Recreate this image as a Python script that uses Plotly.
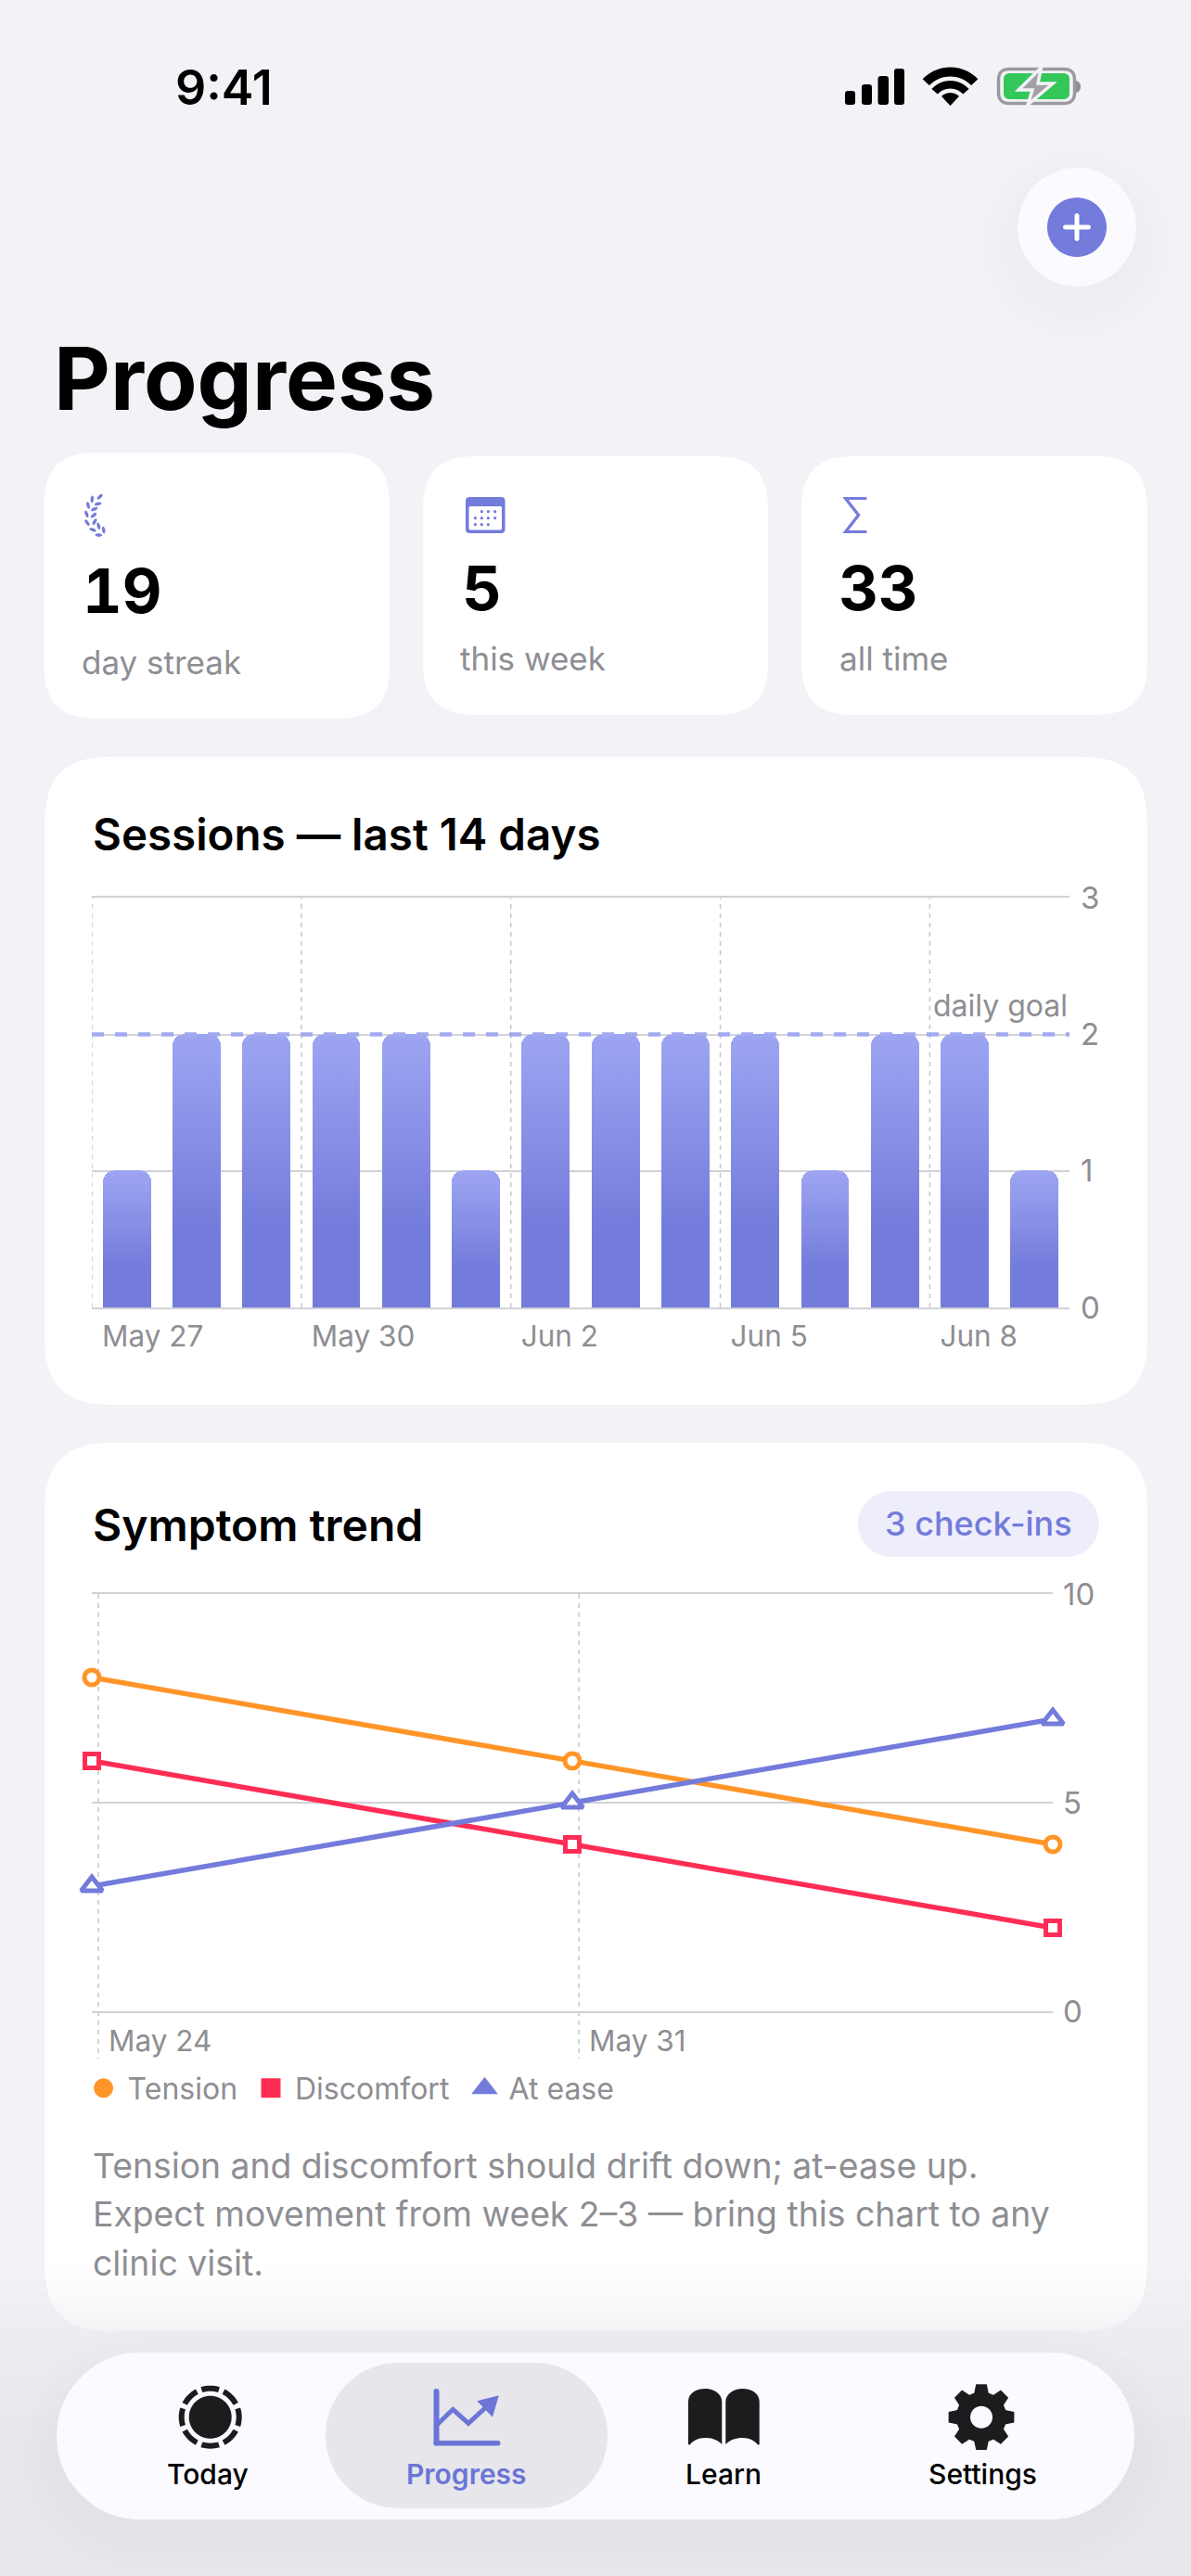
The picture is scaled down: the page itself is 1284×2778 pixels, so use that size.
import math
import re
import plotly.graph_objects as go

# ---------- data ----------
days = ["May 27", "May 28", "May 29", "May 30", "May 31", "Jun 1", "Jun 2",
        "Jun 3", "Jun 4", "Jun 5", "Jun 6", "Jun 7", "Jun 8", "Jun 9"]
sessions = [1, 2, 2, 2, 2, 1, 2, 2, 2, 2, 1, 2, 2, 1]
daily_goal = 2
session_label_days = ["May 27", "May 30", "Jun 2", "Jun 5", "Jun 8"]
session_y_ticks = [0, 1, 2, 3]

checkin_times = ["2024-05-23 21:44", "2024-05-30 21:44", "2024-06-06 21:44"]
tension = [8, 6, 4]
discomfort = [6, 4, 2]
at_ease = [3, 5, 7]
trend_tick_dates = ["2024-05-24", "2024-05-31"]
trend_tick_labels = ["May 24", "May 31"]
trend_y_ticks = [0, 5, 10]

stat_values = ["19", "5", "33"]
stat_labels = ["day streak", "this week", "all time"]
note_lines = ["Tension and discomfort should drift down; at-ease up.",
              "Expect movement from week 2\u20133 \u2014 bring this chart to any",
              "clinic visit."]
nav_labels = ["Today", "Progress", "Learn", "Settings"]

# ---------- palette ----------
W, H = 1284, 2778
BG = "#F2F2F7"
CARD = "#FFFFFF"
NAVBG = "#FAFAFF"
INDIGO = "#737BDB"
INDIGO_DK = "#6B75D8"
INK = "#1C1C1E"
GREY = "#8E8E93"
GRID = "#D1D1D6"
VGRID = "#C7C7CC"
ORANGE = "#FF9528"
RED = "#FF2D55"
FONT = "Inter"


def fx(x):
    return x / W


def fy(y):
    return 1 - y / H


def pth(s):
    toks = re.findall(r"[MLCQZ]|-?\d+\.?\d*", s)
    out, is_x = [], True
    for t in toks:
        if t in "MLCQZ":
            out.append(t)
            is_x = True
        else:
            v = float(t)
            out.append(f"{fx(v):.6f}" if is_x else f"{fy(v):.6f}")
            is_x = not is_x
    return " ".join(out)


shapes = []


def add(path, fill=None, stroke=None, sw=0, opacity=1.0):
    shapes.append(dict(type="path", xref="paper", yref="paper", layer="below",
                       path=pth(path), fillcolor=fill or "rgba(0,0,0,0)", opacity=opacity,
                       line=dict(color=stroke or "rgba(0,0,0,0)", width=sw)))


def rr(x0, y0, x1, y1, r, k=1.3):
    s = min(r * k, (x1 - x0) / 2, (y1 - y0) / 2)
    c = s * 0.3
    if s < r * k:
        c = s * 0.448
    return (f"M {x0} {y0+s} C {x0} {y0+c} {x0+c} {y0} {x0+s} {y0} L {x1-s} {y0} "
            f"C {x1-c} {y0} {x1} {y0+c} {x1} {y0+s} L {x1} {y1-s} "
            f"C {x1} {y1-c} {x1-c} {y1} {x1-s} {y1} L {x0+s} {y1} "
            f"C {x0+c} {y1} {x0} {y1-c} {x0} {y1-s} Z")


def circle(cx, cy, r):
    return rr(cx - r, cy - r, cx + r, cy + r, r * 2)


def sector(cx, cy, r0, r1, a0, a1, n=14):
    pts = []
    for i in range(n + 1):
        a = math.radians(a0 + (a1 - a0) * i / n)
        pts.append((cx + r1 * math.cos(a), cy - r1 * math.sin(a)))
    for i in range(n, -1, -1):
        a = math.radians(a0 + (a1 - a0) * i / n)
        pts.append((cx + r0 * math.cos(a), cy - r0 * math.sin(a)))
    return "M " + " L ".join(f"{x:.2f} {y:.2f}" for x, y in pts) + " Z"


def poly(pts, close=True):
    return "M " + " L ".join(f"{x:.2f} {y:.2f}" for x, y in pts) + (" Z" if close else "")


def ellipse(cx, cy, a, b, ang, n=14):
    t = math.radians(ang)
    pts = []
    for i in range(n):
        u = 2 * math.pi * i / n
        ex, ey = a * math.cos(u), b * math.sin(u)
        pts.append((cx + ex * math.cos(t) - ey * math.sin(t), cy - ex * math.sin(t) - ey * math.cos(t)))
    return poly(pts)


def shadow(x0, y0, x1, y1, r, dy, spread, layers, alpha):
    for i in range(layers):
        g = spread * (1 - i / layers)
        add(rr(x0 - g, y0 - g + dy, x1 + g, y1 + g + dy, r + g), fill="#000000", opacity=alpha)


# ---------- cards ----------
for box, r in [((47.5, 488, 420, 775), 44), ((456, 492, 828, 771), 44), ((864, 492, 1237, 771), 44),
               ((48, 816, 1237, 1515), 56), ((48, 1556, 1237, 2514), 56)]:
    add(rr(*box, r), fill=CARD)

# bottom fade: horizontal strips, each with its own opacity
FADE = "#E7E7EC"
y = 2436
while y < H:
    if y < 2514:
        a = 0.5 * ((y - 2436) / 78) ** 1.3
    else:
        a = min(1.0, 0.5 + 0.5 * (y - 2514) / 120)
    shapes.append(dict(type="rect", xref="paper", yref="paper", layer="below",
                       x0=0, x1=1, y0=fy(y + 3), y1=fy(y), fillcolor=FADE, opacity=a, line=dict(width=0)))
    y += 3

# FAB
shadow(1097, 181, 1225, 309, 64, 18, 44, 5, 0.0042)
add(circle(1161, 245, 64), fill=NAVBG)
add(circle(1161, 245, 32), fill=INDIGO)
add(rr(1146, 242.5, 1176, 247.5, 2.5), fill="#FFFFFF")
add(rr(1158.5, 230, 1163.5, 260, 2.5), fill="#FFFFFF")

# nav
shadow(61, 2537, 1223, 2717, 90, 16, 40, 5, 0.0042)
add(rr(61, 2537, 1223, 2717, 90), fill=NAVBG)
add(rr(351, 2548, 655, 2705, 78), fill="#E6E6EB")

# status bar
for x0, x1, y0 in [(911, 922, 98), (929, 940, 91), (946.5, 958, 82), (964, 975, 74)]:
    add(rr(x0, y0, x1, 113, 3.2, 1.0), fill="#000000")
add(sector(1024.5, 114, 31.5, 41.5, 44, 136), fill="#000000")
add(sector(1024.5, 114, 18.5, 27, 42, 138), fill="#000000")
add(sector(1024.5, 114, 0, 14, 47, 133, 6), fill="#000000")
add(rr(1076.5, 74.5, 1158.5, 111.5, 12, 1.0), stroke="#9A9A9E", sw=3.5)
add(rr(1082, 79, 1153, 107, 7, 1.0), fill="#34C759")
add("M 1160 87 C 1164 88 1165 91 1165 93.5 C 1165 96 1164 99 1160 100 Z", fill="#8E8E93")
bolt = [(1122.5, 73), (1098, 97), (1113, 97), (1108, 113), (1135, 90), (1119, 90)]
add(poly(bolt), fill="#A2A2A6", stroke=BG, sw=3.5)

# laurel
for cx, cy, ang in [(113, 47, 45), (88, 55, 85), (107, 70, 12), (75, 75, 105), (95, 87, 25),
                    (70, 103, 110), (93, 107, 40), (72, 131, 125), (96, 128, 60), (109, 142, 105),
                    (90, 154, 160), (125, 155, 100), (109, 171, 178)]:
    add(ellipse(70 + cx / 3, 520 + cy / 3, 3.9, 1.7, ang), fill=INDIGO)

# calendar
add(rr(502, 536, 544.5, 575, 4.5, 1.0), fill=INDIGO)
add(rr(505.5, 546, 541, 571.5, 2, 1.0), fill="#FFFFFF")
for row, xs in [(95, (88, 109, 131)), (116, (67, 88, 109, 131)), (137, (67, 88, 109))]:
    for xz in xs:
        add(circle(490 + xz / 3, 520 + row / 3, 1.6), fill=INDIGO)

# sigma
add(poly([(934.3, 537.5), (911.6, 537.5), (925.6, 555.5), (911.6, 573.5), (934.3, 573.5)], close=False),
    stroke=INDIGO, sw=3.2)

# Today icon
add(circle(226.7, 2606.7, 23), fill=INK)
for k in range(8):
    c = k * 45
    add(sector(226.7, 2606.7, 28, 34, c - 17.5, c + 17.5, 8), fill=INK)

# Progress icon
add(rr(467.5, 2576, 473.5, 2637.5, 3, 1.0), fill=INDIGO_DK)
add(rr(467.5, 2632, 539.5, 2637.5, 2.7, 1.0), fill=INDIGO_DK)
add(poly([(471, 2615), (488.3, 2598.3), (505, 2613.3), (525, 2595)], close=False), stroke=INDIGO_DK, sw=5)
add(poly([(514.3, 2589.3), (537.7, 2583.3), (531, 2606.7)]), fill=INDIGO_DK)

# Learn icon
add("M 742 2636 L 742 2590 C 742 2580 752 2576 760 2576 C 770 2576 778.3 2582 778.3 2590 L 778.3 2636 "
    "C 773 2631 768 2629 760 2629 C 753 2629 747 2632 743.5 2636.7 Z", fill=INK)
add("M 818.7 2636 L 818.7 2590 C 818.7 2580 808.7 2576 800.7 2576 C 790.7 2576 782.3 2582 782.3 2590 L 782.3 2636 "
    "C 787.7 2631 792.7 2629 800.7 2629 C 807.7 2629 813.7 2632 817.2 2636.7 Z", fill=INK)

# Settings icon
gc = (1058, 2606.7)
pts = []
for k in range(8):
    a = k * 45 + 90
    for d, r in [(-15.5, 26.5), (-8.5, 35), (8.5, 35), (15.5, 26.5)]:
        t = math.radians(a + d)
        pts.append((gc[0] + r * math.cos(t), gc[1] - r * math.sin(t)))
add(poly(pts), fill=INK, stroke=INK, sw=1.5)
add(circle(gc[0], gc[1], 12), fill=NAVBG)

# pill
add(rr(925, 1608, 1185, 1679, 35), fill="#EEEEFA")

# vertical dashed grids
VDASH = dict(color=VGRID, width=1.5, dash="5px,5px")
x_session_ticks = [days.index(d) - 0.5 for d in session_label_days]
for v in x_session_ticks:
    shapes.append(dict(type="line", xref="x", yref="paper", layer="below", x0=v, x1=v,
                       y0=fy(1410), y1=fy(968.4), line=VDASH))
for d in trend_tick_dates:
    shapes.append(dict(type="line", xref="x2", yref="paper", layer="below", x0=d, x1=d,
                       y0=fy(1719), y1=fy(2220), line=VDASH))

# ---------- annotations ----------
ann = []


def text(x, y, s, size, color="#000000", weight=400, anchor="left"):
    ann.append(dict(xref="paper", yref="paper", x=fx(x), y=fy(y), text=s, showarrow=False,
                    xanchor=anchor, yanchor="middle", borderpad=0, borderwidth=0,
                    font=dict(family=FONT, size=size, color=color, weight=weight)))


text(189, 94, "9:41", 52, weight=600)
text(58, 408, "Progress", 94, weight=700)
for (xv, yv, xl, yl), v, l in zip([(96, 637, 87.5, 714), (498, 634, 496, 710), (904, 634, 905, 710)],
                                  stat_values, stat_labels):
    text(xv, yv, v, 66, weight=700)
    text(xl, yl, l, 35, color=GREY)
text(100, 899, "Sessions \u2014 last 14 days", 47.5, weight=600)
text(1151, 1084, "daily goal", 32, color=GREY, anchor="right")
text(100, 1644, "Symptom trend", 48, weight=600)
text(1055, 1643, "3 check-ins", 36, color=INDIGO, weight=500, anchor="center")
for y, line in zip([2335, 2387, 2440], note_lines):
    text(100, y, line, 37.3, color=GREY)
for x, s, c, wt in zip([224, 503, 780, 1059], nav_labels, ["#000000", INDIGO_DK, "#000000", "#000000"],
                       [500, 600, 500, 500]):
    text(x, 2668, s, 30, color=c, weight=wt, anchor="center")

# ---------- traces ----------
fig = go.Figure()
x_idx = list(range(len(days)))
fig.add_trace(go.Bar(x=x_idx, y=sessions, width=0.69, marker=dict(color=INDIGO, cornerradius=12, line=dict(width=0)),
                     xaxis="x", yaxis="y", showlegend=False, hoverinfo="skip"))
fig.add_trace(go.Scatter(x=[-0.5, 13.5], y=[daily_goal, daily_goal], mode="lines", xaxis="x", yaxis="y",
                         line=dict(color="#A3A9F0", width=4.5, dash="13px,12px"), showlegend=False, hoverinfo="skip"))

series = [("Tension", tension, ORANGE, "circle", 16), ("Discomfort", discomfort, RED, "square", 15),
          ("At ease", at_ease, INDIGO, "triangle-up", 20)]
for name, vals, col, sym, ms in series:
    fig.add_trace(go.Scatter(x=checkin_times, y=vals, mode="lines+markers", name=name, xaxis="x2", yaxis="y2",
                             cliponaxis=False, showlegend=False, hoverinfo="skip",
                             line=dict(color=col, width=5.5),
                             marker=dict(symbol=sym, size=ms, color="#FFFFFF", line=dict(color=col, width=5))))
legend_keys = ["legend", "legend2", "legend3"]
legend_x = [85.6, 266, 496.5]
for (name, vals, col, sym, ms), key in zip(series, legend_keys):
    fig.add_trace(go.Scatter(x=[None], y=[None], mode="markers", name=name, xaxis="x2", yaxis="y2", legend=key,
                             marker=dict(symbol=sym, size=16, color=col, line=dict(color=col, width=5)),
                             hoverinfo="skip"))

legend_common = dict(orientation="h", yanchor="middle", xanchor="left", bgcolor="rgba(0,0,0,0)", itemwidth=42,
                     font=dict(family=FONT, size=32, color=GREY), itemclick=False, itemdoubleclick=False)

layout = dict(
    width=W, height=H, margin=dict(l=0, r=0, t=0, b=0, autoexpand=False),
    paper_bgcolor=BG, plot_bgcolor="rgba(0,0,0,0)", font=dict(family=FONT),
    bargap=0, barmode="overlay", shapes=shapes, annotations=ann, hovermode=False,
    xaxis=dict(domain=[fx(99), fx(1153)], range=[-0.5, 13.5], tickmode="array", tickvals=x_session_ticks,
               ticktext=session_label_days, showgrid=False, zeroline=False, showline=True, mirror=True,
               linecolor=GRID, linewidth=2, ticks="", anchor="y", ticklabelposition="outside right",
               ticklabelshift=10, ticklabelstandoff=2, tickfont=dict(family=FONT, size=31.5, color=GREY), tickangle=0),
    yaxis=dict(domain=[fy(1410), fy(968.4)], range=[0, 3], tickmode="array", tickvals=session_y_ticks, side="right",
               showgrid=True, gridcolor=GRID, gridwidth=2, zeroline=False, showline=False, ticks="", anchor="x",
               ticklabelstandoff=11, tickfont=dict(family=FONT, size=33, color=GREY)),
    xaxis2=dict(domain=[fx(99), fx(1135)], type="date", range=[checkin_times[0], checkin_times[-1]],
                tickmode="array", tickvals=trend_tick_dates, ticktext=trend_tick_labels, showgrid=False,
                zeroline=False, showline=True, mirror=True, linecolor=GRID, linewidth=2, ticks="", anchor="y2",
                ticklabelposition="outside right", ticklabelshift=10, ticklabelstandoff=3,
                tickfont=dict(family=FONT, size=31.5, color=GREY), tickangle=0),
    yaxis2=dict(domain=[fy(2169), fy(1719)], range=[0, 10], tickmode="array", tickvals=trend_y_ticks, side="right",
                showgrid=True, gridcolor=GRID, gridwidth=2, zeroline=False, showline=False, ticks="", anchor="x2",
                ticklabelstandoff=10, tickfont=dict(family=FONT, size=33, color=GREY)),
)
for key, x in zip(legend_keys, legend_x):
    layout[key] = dict(x=fx(x), y=fy(2252), **legend_common)
fig.update_layout(**layout)

post = """
document.documentElement.style.overflow='hidden';
document.body.style.margin='0';
document.body.style.background='%s';
var gd=document.getElementById('{plot_id}');
var svg=gd.querySelector('svg.main-svg');
var NS='http://www.w3.org/2000/svg';
var g=document.createElementNS(NS,'linearGradient');
g.setAttribute('id','barfade');g.setAttribute('x1','0');g.setAttribute('y1','0');g.setAttribute('x2','0');g.setAttribute('y2','1');
[['0','#9DA5F2'],['0.72','#737BDB'],['1','#737BDB']].forEach(function(s){
  var st=document.createElementNS(NS,'stop');st.setAttribute('offset',s[0]);st.setAttribute('stop-color',s[1]);g.appendChild(st);});
var defs=svg.querySelector('defs')||svg.insertBefore(document.createElementNS(NS,'defs'),svg.firstChild);
defs.appendChild(g);
gd.querySelectorAll('.barlayer .point path').forEach(function(p){p.style.fill='url(#barfade)';});
gd.querySelectorAll('.annotation-text').forEach(function(t){
  if(t.textContent==='19'){t.style.fontFeatureSettings='"tnum"';}
});
""" % BG

fig.write_html("out.html", include_plotlyjs=True, post_script=post, config=dict(displayModeBar=False, responsive=False))
